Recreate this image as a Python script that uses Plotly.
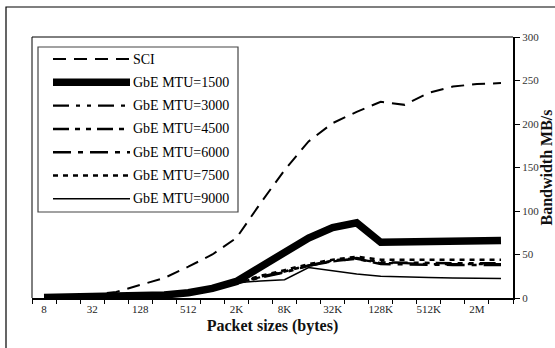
import math
import plotly.graph_objects as go

# Packet sizes (bytes) and their axis labels
sizes = [8, 16, 32, 64, 128, 256, 512, 1024, 2048, 4096, 8192, 16384, 32768,
         65536, 131072, 262144, 524288, 1048576, 2097152, 4194304]
tick_sizes = [8, 32, 128, 512, 2048, 8192, 32768, 131072, 524288, 2097152]
tick_labels = ["8", "32", "128", "512", "2K", "8K", "32K", "128K", "512K", "2M"]

# Bandwidth (MB/s) per packet size
sci = [0.4, 1.5, 3.5, 7, 15, 23, 36, 50, 69, 109, 147, 180, 201, 214, 225.5, 222, 236, 243, 246, 247]
mtu1500 = [0.5, 0.8, 1.2, 1.6, 2, 3.5, 6, 11, 19, 36, 53, 69, 81, 86.5, 64, 64.3, 65, 65.5, 66, 66]
mtu3000 = [0.3, 0.6, 1, 1.4, 1.9, 3, 5.5, 10, 17, 24, 30, 37, 42, 45, 40, 40, 39, 39, 39, 39]
mtu4500 = [0.3, 0.6, 1, 1.4, 1.9, 3, 5.5, 10, 17, 24.5, 30.5, 37.5, 43, 46, 41, 40.5, 40, 40, 40, 40]
mtu6000 = [0.3, 0.6, 1, 1.4, 1.9, 3, 5.5, 10, 17, 23.5, 29.5, 37, 42.5, 45, 39, 38.5, 38, 38, 38, 38]
mtu7500 = [0.3, 0.6, 1, 1.4, 1.9, 3, 5.5, 10, 17.5, 25.5, 32, 39, 44, 47.5, 44, 44, 44, 44, 44, 44]
mtu9000 = [0.3, 0.6, 1, 1.4, 1.9, 3, 5.5, 10, 17.5, 19.5, 21, 35, 31, 27.5, 25, 24, 23.5, 23, 22.5, 22.5]

series = [
    ("SCI", sci, dict(width=2, dash="13px,8px")),
    ("GbE MTU=1500", mtu1500, dict(width=7.5)),
    ("GbE MTU=3000", mtu3000, dict(width=2.2, dash="16px,7px,4px,7px,4px,7px")),
    ("GbE MTU=4500", mtu4500, dict(width=2.5, dash="16px,6px,5px,6px,5px,6px")),
    ("GbE MTU=6000", mtu6000, dict(width=2.5, dash="18px,7px,5px,7px")),
    ("GbE MTU=7500", mtu7500, dict(width=2.5, dash="5px,5px")),
    ("GbE MTU=9000", mtu9000, dict(width=1.5)),
]

W, H = 555, 348
ML, MR, MT, MB = 32, 42, 37, 50
PW, PH = W - ML - MR, H - MT - MB


def px(x):
    return (x - ML) / PW


def py(y):
    return (H - MB - y) / PH


xs = [math.log2(s) for s in sizes]

fig = go.Figure()
for name, vals, style in series:
    fig.add_trace(go.Scatter(
        x=xs, y=vals, mode="lines", name=name,
        line=dict(color="black", shape="linear", **style),
        showlegend=False, hoverinfo="skip",
    ))

serif = "Liberation Serif"

shapes = []
annotations = []

# outer frame
shapes.append(dict(type="rect", xref="paper", yref="paper",
                   x0=px(6), x1=px(570), y0=py(7), y1=py(360),
                   line=dict(color="black", width=1.2), layer="below"))
# plot frame (top and left edges)
shapes.append(dict(type="line", xref="paper", yref="paper",
                   x0=0, x1=1, y0=1, y1=1, line=dict(color="black", width=1)))
shapes.append(dict(type="line", xref="paper", yref="paper",
                   x0=0, x1=0, y0=0, y1=1, line=dict(color="black", width=1)))

# legend box
lx0, lx1, ly0, ly1 = 38, 238, 47, 212
shapes.append(dict(type="rect", xref="paper", yref="paper",
                   x0=px(lx0), x1=px(lx1), y0=py(ly0), y1=py(ly1),
                   line=dict(color="#444", width=1.2), fillcolor="white"))
row0, row_step = 59, 23.3
for i, (name, vals, style) in enumerate(series):
    yy = row0 + i * row_step
    shapes.append(dict(type="line", xref="paper", yref="paper",
                       x0=px(53), x1=px(130), y0=py(yy), y1=py(yy),
                       line=dict(color="black", **style)))
    annotations.append(dict(text=name, xref="paper", yref="paper",
                            x=px(131), y=py(yy), xanchor="left", yanchor="middle",
                            showarrow=False, font=dict(family=serif, size=14, color="black")))

fig.update_layout(
    width=W, height=H,
    margin=dict(l=ML, r=MR, t=MT, b=MB, autoexpand=False),
    paper_bgcolor="white", plot_bgcolor="white",
    font=dict(family=serif),
    shapes=shapes, annotations=annotations,
    showlegend=False,
    xaxis=dict(
        range=[2.5, 22.5], showgrid=False, zeroline=False, automargin=False,
        tickvals=[math.log2(s) for s in tick_sizes], ticktext=tick_labels,
        ticks="", tickfont=dict(family=serif, size=11, color="#222"),
        showline=True, linecolor="black", linewidth=2,
        minor=dict(ticks="outside", tick0=2.5, dtick=1, ticklen=4,
                   tickcolor="black", tickwidth=1, showgrid=False),
        title=dict(text="<b>Packet sizes (bytes)</b>", standoff=6,
                   font=dict(family=serif, size=16, color="#111")),
    ),
    yaxis=dict(
        side="right", range=[0, 300], dtick=50, showgrid=False, zeroline=False,
        automargin=False,
        ticks="outside", ticklen=5, tickcolor="black", tickwidth=1,
        tickfont=dict(family=serif, size=11, color="#333"),
        showline=True, linecolor="black", linewidth=2,
        title=dict(text="<b>Bandwidth MB/s</b>", standoff=14,
                   font=dict(family=serif, size=16, color="#111")),
    ),
)

fig.write_html("out.html")
